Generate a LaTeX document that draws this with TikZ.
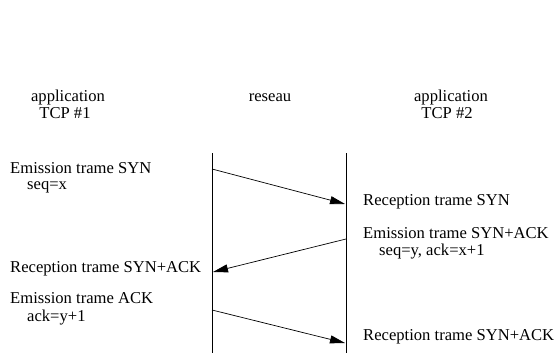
\documentclass[tikz,border=0pt]{standalone}
\usepackage{fontspec}
\setmainfont{Liberation Serif}
\usetikzlibrary{arrows.meta}
\begin{document}
\begin{tikzpicture}[x=1pt,y=-1pt,
    txt/.style={anchor=base west,inner sep=0pt,font=\fontsize{16.6}{19}\selectfont},
    head/.style={anchor=base,inner sep=0pt,font=\fontsize{16.6}{19}\selectfont},
    msg/.style={line width=0.7pt,-{Triangle[length=15pt,width=8pt]}}]
            \useasboundingbox (0,0) rectangle (557,353);
            \node[head] (app1) at (68,102) {application};
            \node[head] (tcp1) at (65,118) {TCP \#1};
            \node[head] (res) at (270,102) {reseau};
            \node[head] (app2) at (451,102) {application};
            \node[head] (tcp2) at (447,118) {TCP \#2};
            \coordinate (h1top) at (212,153);
            \coordinate (h1bot) at (212,353);
            \coordinate (h2top) at (346,153);
            \coordinate (h2bot) at (346,353);
            \draw[line width=0.7pt] (h1top) -- (h1bot);
            \draw[line width=0.7pt] (h2top) -- (h2bot);
            \node[txt] (em1) at (10,173) {Emission trame SYN};
            \node[txt] (seq1) at (27,189.5) {seq=x};
            \node[txt] (rec1) at (363,205) {Reception trame SYN};
            \node[txt] (em2) at (363,238) {Emission trame SYN+ACK};
            \node[txt] (seq2) at (379,255) {seq=y, ack=x+1};
            \node[txt] (rec2) at (10,272) {Reception trame SYN+ACK};
            \node[txt] (em3) at (10,303) {Emission trame ACK};
            \node[txt] (ack3) at (27,321) {ack=y+1};
            \node[txt] (rec3) at (363,340) {Reception trame SYN+ACK};
            \coordinate (s1) at (212,169);
            \coordinate (d1) at (345,204);
            \coordinate (s2) at (346,239);
            \coordinate (d2) at (213,272);
            \coordinate (s3) at (212,310);
            \coordinate (d3) at (345,343);
            \draw[msg] (s1) -- (d1);
            \draw[msg] (s2) -- (d2);
            \draw[msg] (s3) -- (d3);
        \end{tikzpicture}
\end{document}
